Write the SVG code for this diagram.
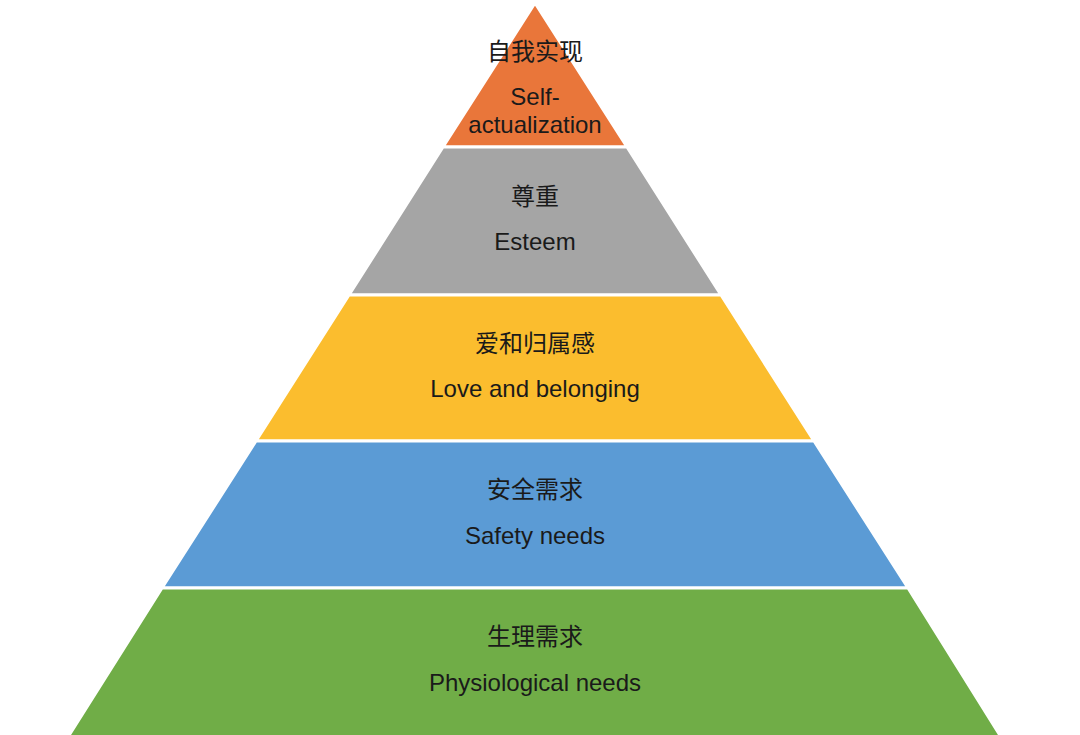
<svg xmlns="http://www.w3.org/2000/svg" width="1080" height="735" viewBox="0 0 1080 735">
<style>
.t{font-family:"Liberation Sans","Noto Sans CJK SC",sans-serif;font-size:24px;fill:#1a1a1a;text-anchor:middle}
.l{stroke:#fff;stroke-width:3}
</style>
<rect width="1080" height="735" fill="#ffffff"/>
<g id="self"><polygon class="l" points="535,3 627,147 443,147" fill="#E9763A"/>
<text class="t" x="535" y="60">自我实现</text><text class="t" x="535" y="105">Self-</text><text class="t" x="535" y="133">actualization</text></g>
<g id="esteem"><polygon class="l" points="443,147 627,147 721,295 349,295" fill="#A5A5A5"/>
<text class="t" x="535" y="205">尊重</text><text class="t" x="535" y="250">Esteem</text></g>
<g id="love"><polygon class="l" points="349,295 721,295 814,441 256,441" fill="#FBBD2E"/>
<text class="t" x="535" y="352">爱和归属感</text><text class="t" x="535" y="397">Love and belonging</text></g>
<g id="safety"><polygon class="l" points="256,441 814,441 908,588 162,588" fill="#5B9BD5"/>
<text class="t" x="535" y="498">安全需求</text><text class="t" x="535" y="544">Safety needs</text></g>
<g id="phys"><polygon class="l" points="162,588 908,588 1001,737 68,737" fill="#70AD47"/>
<text class="t" x="535" y="645">生理需求</text><text class="t" x="535" y="691">Physiological needs</text></g>
<g id="connectors"></g>
</svg>
